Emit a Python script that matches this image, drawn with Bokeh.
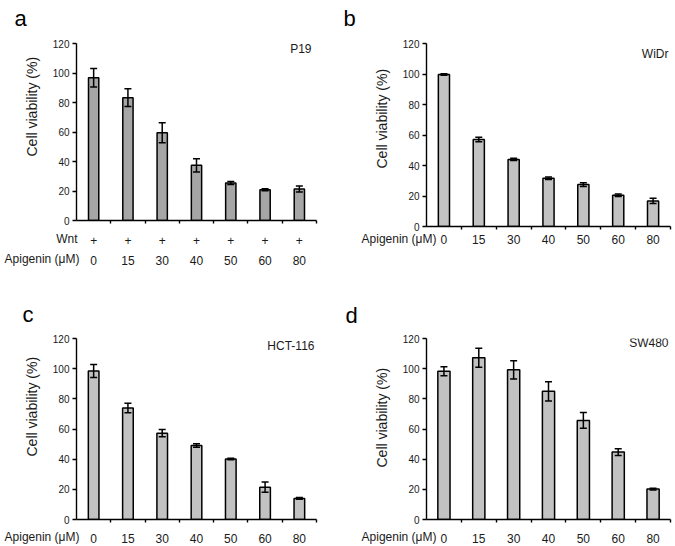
import math
from bokeh.plotting import figure
from bokeh.models import (Range1d, LinearAxis, FixedTicker, ColumnDataSource,
                          Whisker, TeeHead, Label, Title)
from bokeh.layouts import row, column
from bokeh.embed import file_html
from bokeh.resources import INLINE

# ---------------- data ----------------
doses = ["0", "15", "30", "40", "50", "60", "80"]
wnt_marks = ["+", "+", "+", "+", "+", "+", "+"]

p19_mean = [96.8, 83.3, 59.5, 37.4, 25.4, 20.9, 21.4]
p19_err = [6.3, 6.0, 6.8, 4.5, 1.0, 0.7, 2.0]

widr_mean = [99.7, 57.0, 44.0, 31.6, 27.5, 20.5, 16.8]
widr_err = [0.5, 1.5, 0.7, 0.8, 1.2, 0.8, 1.7]

hct_mean = [98.4, 73.9, 57.2, 49.1, 40.1, 21.4, 14.0]
hct_err = [4.3, 3.2, 2.4, 1.2, 0.5, 3.4, 0.6]

sw_mean = [98.3, 107.3, 99.2, 85.0, 65.7, 44.7, 20.2]
sw_err = [3.0, 6.3, 6.0, 6.4, 5.2, 2.2, 0.6]

y_ticks = [0, 20, 40, 60, 80, 100, 120]
y_max = 120

FONT = "Liberation Sans"
TXT = "#1a1a1a"


def make_panel(letter, name, means, errs, fill, origin, size, borders,
               bar_width, lab_standoff, row_labels, letter_pos, letter_side,
               name_pos, ytitle_offset, wnt=False):
    n = len(doses)
    centers = list(range(n))
    bounds = [i + 0.5 for i in range(n)]
    ox, oy = origin
    width, height = size
    l, r, t, b = borders
    # frame geometry in page pixels (used only to place text labels)
    fl, fr = ox + l, ox + width - r
    ft, fb = oy + t, oy + height - b

    def dx(px):
        return -0.5 + (px - fl) / (fr - fl) * n

    def dy(py):
        return (fb - py) / (fb - ft) * y_max

    p = figure(width=width, height=height, output_backend="svg",
               toolbar_location=None, x_axis_type=None,
               x_range=Range1d(-0.5, n - 0.5), y_range=Range1d(0, y_max),
               min_border_left=l, min_border_right=r,
               min_border_top=t, min_border_bottom=b)
    p.outline_line_color = None
    p.grid.visible = False
    p.background_fill_color = "white"

    # y axis
    ya = p.yaxis[0]
    ya.ticker = FixedTicker(ticks=y_ticks)
    ya.axis_line_width = 1.4
    ya.axis_line_color = "black"
    ya.major_tick_line_width = 1.4
    ya.major_tick_line_color = "black"
    ya.major_tick_out = 4
    ya.major_tick_in = 0
    ya.minor_tick_line_color = None
    ya.major_label_text_font = FONT
    ya.major_label_text_font_size = "10px"
    ya.major_label_text_color = TXT
    ya.major_label_standoff = 3

    # y axis title
    p.add_layout(Title(text="Cell viability (%)", align="left",
                       vertical_align="bottom", offset=ytitle_offset,
                       standoff=20, text_font=FONT, text_font_size="14px",
                       text_font_style="normal", text_color=TXT), "left")

    # x axis (ticks at category boundaries)
    first_labels = wnt_marks if wnt else doses
    xa = LinearAxis(ticker=FixedTicker(ticks=centers, minor_ticks=bounds),
                    major_label_overrides={c: s for c, s in zip(centers, first_labels)})
    xa.axis_line_width = 1.4
    xa.axis_line_color = "black"
    xa.major_tick_line_color = None
    xa.major_tick_out = 0
    xa.major_tick_in = 0
    xa.minor_tick_line_color = "black"
    xa.minor_tick_line_width = 1.4
    xa.minor_tick_out = 3
    xa.minor_tick_in = 0
    xa.major_label_text_font = FONT
    xa.major_label_text_font_size = "12px"
    xa.major_label_text_color = TXT
    xa.major_label_standoff = lab_standoff[0]
    p.add_layout(xa, "below")

    if wnt:
        xa2 = LinearAxis(ticker=FixedTicker(ticks=centers),
                         major_label_overrides={c: s for c, s in zip(centers, doses)})
        xa2.axis_line_color = None
        xa2.major_tick_line_color = None
        xa2.minor_tick_line_color = None
        xa2.major_tick_out = 0
        xa2.major_tick_in = 0
        xa2.major_label_text_font = FONT
        xa2.major_label_text_font_size = "12px"
        xa2.major_label_text_color = TXT
        xa2.major_label_standoff = lab_standoff[1]
        p.add_layout(xa2, "below")

    src = ColumnDataSource(dict(
        x=centers, top=means,
        upper=[m + e for m, e in zip(means, errs)],
        lower=[m - e for m, e in zip(means, errs)],
    ))
    p.vbar(x="x", top="top", bottom=0, width=bar_width, source=src,
           fill_color=fill, line_color="black", line_width=1.5)
    wh = Whisker(base="x", upper="upper", lower="lower", source=src,
                 line_color="black", line_width=1.5, level="overlay",
                 upper_head=TeeHead(size=7, line_color="black", line_width=1.5),
                 lower_head=TeeHead(size=7, line_color="black", line_width=1.5))
    p.add_layout(wh)

    # row labels left of the category labels (side panel => not clipped)
    for txt, (px, py) in row_labels:
        p.add_layout(Label(x=dx(px), y=dy(py), text=txt, text_align="right",
                           text_baseline="middle", text_font=FONT,
                           text_font_size="12px", text_color=TXT), "above")

    # panel letter
    p.add_layout(Label(x=dx(letter_pos[0]), y=dy(letter_pos[1]), text=letter,
                       text_align="left", text_baseline="alphabetic",
                       text_font=FONT, text_font_size="22px",
                       text_color="black"), letter_side)
    # cell line name (inside the frame)
    p.add_layout(Label(x=dx(name_pos[0]), y=dy(name_pos[1]), text=name,
                       text_align="right", text_baseline="middle",
                       text_font=FONT, text_font_size="12px", text_color=TXT))
    return p


MU = "\u03bc"
pa = make_panel("a", "P19", p19_mean, p19_err, "#a6a6a6",
                (0, 0), (337, 267), (76, 21, 43, 47), 0.30, (12, 8),
                [("Wnt", (77, 238)), ("Apigenin (" + MU + "M)", (79, 258))],
                (14, 18), "right", (311, 48), 64, wnt=True)
pb = make_panel("b", "WiDr", widr_mean, widr_err, "#c2c2c2",
                (337, 0), (337, 273), (89, 4, 43, 47), 0.32, (5, 0),
                [("Apigenin (" + MU + "M)", (436, 238))],
                (343, 18), "left", (668, 53), 58)
pc = make_panel("c", "HCT-116", hct_mean, hct_err, "#c2c2c2",
                (0, 273), (337, 272), (76, 21, 65, 25), 0.31, (11, 0),
                [("Apigenin (" + MU + "M)", (79, 538))],
                (22, 314), "right", (314, 346), 63)
pd_ = make_panel("d", "SW480", sw_mean, sw_err, "#c2c2c2",
                 (337, 273), (337, 272), (89, 4, 65, 25), 0.35, (11, 0),
                 [("Apigenin (" + MU + "M)", (436, 538))],
                 (345, 315), "left", (668, 343), 52)

layout = column(row(pa, pb), row(pc, pd_))
open("out.html", "w").write(file_html(layout, INLINE))
